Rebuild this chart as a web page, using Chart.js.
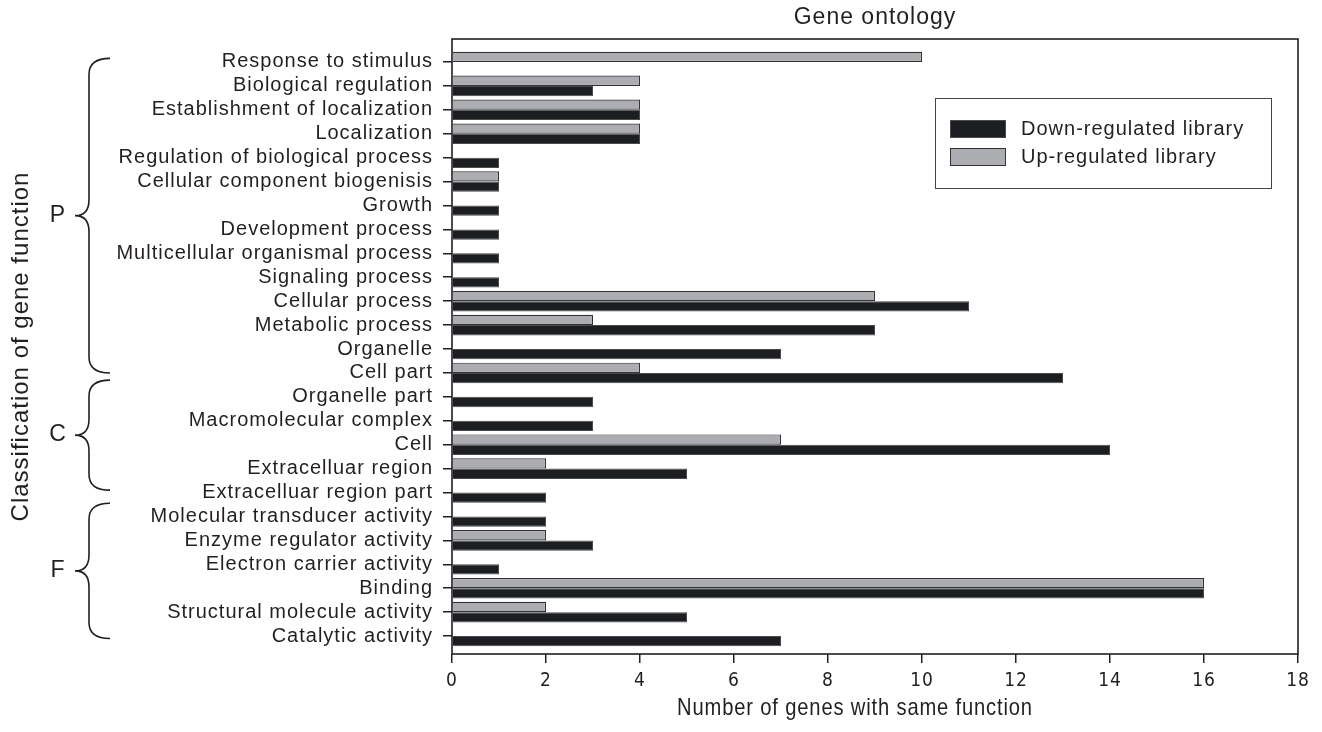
<!DOCTYPE html>
<html>
<head>
<meta charset="utf-8">
<title>Gene ontology</title>
<script src="https://cdn.jsdelivr.net/npm/chart.js@4.4.1/dist/chart.umd.min.js"></script>
<style>
  html, body { margin: 0; padding: 0; background: #fff; }
  #wrap { width: 1322px; height: 732px; }
</style>
</head>
<body>
<div id="wrap"><canvas id="goChart" width="1322" height="732"></canvas></div>
<script>
const categories = [
  'Response to stimulus',
  'Biological regulation',
  'Establishment of localization',
  'Localization',
  'Regulation of biological process',
  'Cellular component biogenisis',
  'Growth',
  'Development process',
  'Multicellular organismal process',
  'Signaling process',
  'Cellular process',
  'Metabolic process',
  'Organelle',
  'Cell part',
  'Organelle part',
  'Macromolecular complex',
  'Cell',
  'Extracelluar region',
  'Extracelluar region part',
  'Molecular transducer activity',
  'Enzyme regulator activity',
  'Electron carrier activity',
  'Binding',
  'Structural molecule activity',
  'Catalytic activity',
];
const downRegulated = [0, 3, 4, 4, 1, 1, 1, 1, 1, 1, 11, 9, 7, 13, 3, 3, 14, 5, 2, 2, 3, 1, 16, 5, 7];
const upRegulated   = [10, 4, 4, 4, 0, 1, 0, 0, 0, 0, 9, 3, 0, 4, 0, 0, 7, 2, 0, 0, 2, 0, 16, 2, 0];

// braces on the left: letter, first and last row covered
const groupLetters = ['P', 'C', 'F'];
const groupFrom = [-0.15, 13.3, 18.45];
const groupTo = [13.0, 17.9, 24.1];

const xTitle = 'Number of genes with same function';

const ink = '#231f20';
const sans = '"Liberation Sans", Arial, Helvetica, sans-serif';
const narrow = '"Liberation Sans Narrow", "Arial Narrow", "DejaVu Sans Condensed", sans-serif';

// wider letter spacing like the printed figure
const spacing = {
  id: 'spacing',
  beforeUpdate(chart) { chart.ctx.letterSpacing = '1px'; },
  beforeDraw(chart) { chart.ctx.letterSpacing = '1px'; }
};

// box round the plot
const frame = {
  id: 'frame',
  afterDatasetsDraw(chart) {
    const {ctx, chartArea: a} = chart;
    ctx.save();
    ctx.strokeStyle = ink;
    ctx.lineWidth = 1.6;
    ctx.strokeRect(a.left, a.top, a.right - a.left, a.bottom - a.top);
    ctx.restore();
  }
};

// x axis title in a condensed face
const condensedTitle = {
  id: 'condensedTitle',
  afterDraw(chart) {
    const {ctx} = chart;
    const x = chart.scales.x;
    ctx.save();
    ctx.translate((x.left + x.right) / 2 - 20, x.bottom - 24);
    ctx.scale(0.84, 1);
    ctx.fillStyle = ink;
    ctx.font = '24px ' + sans;
    ctx.textAlign = 'center';
    ctx.textBaseline = 'middle';
    ctx.fillText(xTitle, 0, 0);
    ctx.restore();
  }
};

const legendBox = {
  id: 'legendBox',
  afterDraw(chart) {
    const {ctx, chartArea: a} = chart;
    const w = 336, h = 90;
    const x = a.right - 27 - w, top = a.top + 59;
    ctx.save();
    ctx.fillStyle = '#fff';
    ctx.fillRect(x, top, w, h);
    ctx.strokeStyle = '#444';
    ctx.lineWidth = 1;
    ctx.strokeRect(x + 0.5, top + 0.5, w, h);
    const sets = chart.data.datasets.slice().reverse();
    sets.forEach((ds, i) => {
      const cy = top + 31 + i * 28;
      ctx.fillStyle = ds.backgroundColor;
      ctx.fillRect(x + 15, cy - 9, 56, 18);
      ctx.strokeStyle = ds.borderColor;
      ctx.strokeRect(x + 15.5, cy - 8.5, 55, 17);
      ctx.fillStyle = ink;
      ctx.font = '20px ' + sans;
      ctx.textAlign = 'left';
      ctx.textBaseline = 'middle';
      ctx.fillText(ds.label, x + 86, cy);
    });
    ctx.restore();
  }
};

const braces = {
  id: 'braces',
  afterDraw(chart) {
    const {ctx} = chart;
    const y = chart.scales.y;
    ctx.save();
    ctx.strokeStyle = ink;
    ctx.lineWidth = 1.6;
    ctx.fillStyle = ink;
    ctx.font = '23px ' + sans;
    ctx.textAlign = 'center';
    ctx.textBaseline = 'middle';
    groupLetters.forEach((g, i) => {
      const y0 = y.getPixelForValue(groupFrom[i]);
      const y1 = y.getPixelForValue(groupTo[i]);
      const ym = (y0 + y1) / 2;
      const xs = y.left + 89, xe = y.left + 110, xt = y.left + 75, r = 16;
      ctx.beginPath();
      ctx.moveTo(xe, y0);
      ctx.quadraticCurveTo(xs, y0, xs, y0 + r);
      ctx.lineTo(xs, ym - r);
      ctx.quadraticCurveTo(xs, ym, xt, ym);
      ctx.quadraticCurveTo(xs, ym, xs, ym + r);
      ctx.lineTo(xs, y1 - r);
      ctx.quadraticCurveTo(xs, y1, xe, y1);
      ctx.stroke();
      ctx.fillText(g, y.left + 58, ym);
    });
    ctx.restore();
  }
};

const data = {
  datasets: [
    {
      label: 'Up-regulated library',
      data: upRegulated.map((v, i) => ({x: v, y: i})),
      backgroundColor: '#acadb0',
      borderColor: '#333336',
      borderWidth: 1.2,
    },
    {
      label: 'Down-regulated library',
      data: downRegulated.map((v, i) => ({x: v, y: i})),
      backgroundColor: '#1d1e21',
      borderColor: '#4a4a4d',
      borderWidth: 1,
    },
  ]
};

const config = {
  type: 'bar',
  data: data,
  options: {
    indexAxis: 'y',
    responsive: false,
    animation: false,
    categoryPercentage: 0.86,
    barPercentage: 1,
    layout: { padding: { left: 0, right: 24, top: 0, bottom: 0 } },
    plugins: {
      legend: { display: false },
      tooltip: { enabled: false },
      title: {
        display: true,
        fullSize: false,
        text: 'Gene ontology',
        color: ink,
        font: { family: sans, size: 23, weight: 'normal' },
        padding: { top: 4, bottom: 7.4 }
      }
    },
    scales: {
      x: {
        type: 'linear',
        min: 0,
        max: 18,
        ticks: { stepSize: 2, color: ink, font: { family: narrow, size: 19 }, padding: 7 },
        grid: { drawOnChartArea: false, tickLength: 9, color: ink, lineWidth: 1.5 },
        border: { display: false },
        afterFit(s) { s.height = 78; }
      },
      y: {
        type: 'linear',
        reverse: true,
        offset: false,
        min: -0.96,
        max: 24.75,
        ticks: {
          stepSize: 1,
          autoSkip: false,
          includeBounds: false,
          color: ink,
          font: { family: sans, size: 20 },
          padding: 10,
          callback: (v) => Number.isInteger(v) ? categories[v] : null
        },
        grid: { offset: false, drawOnChartArea: false, tickLength: 9, color: ink, lineWidth: 1.5 },
        border: { display: false },
        title: {
          display: true,
          text: 'Classification of gene function',
          color: ink,
          font: { family: sans, size: 24 },
          padding: { top: 7, bottom: 0 }
        },
        afterFit(s) { s.width = 452; }
      }
    }
  },
  plugins: [spacing, frame, legendBox, braces, condensedTitle]
};

const goChart = new Chart(document.getElementById('goChart'), config);
</script>
</body>
</html>
